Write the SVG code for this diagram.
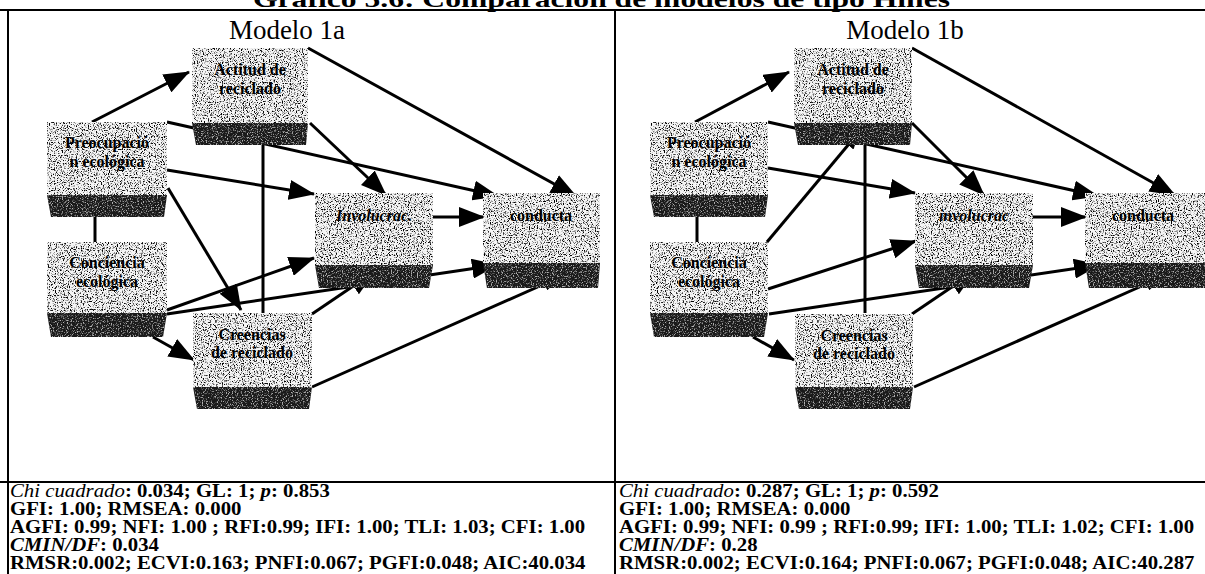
<svg xmlns="http://www.w3.org/2000/svg" width="1205" height="574" viewBox="0 0 1205 574">
  <style>
    .rule{stroke:#000;stroke-width:2;fill:none}
    .edge{stroke:#000;stroke-width:3;fill:none;marker-end:url(#ah)}
    .edge.hid{marker-end:url(#ahs)}
    .face{fill:#f5f5f5;filter:url(#speckLight)}
    .base{fill:#1a1a1a;filter:url(#speckDark)}
    .lbl{font-family:"Liberation Serif","Times New Roman",serif;font-weight:bold;font-size:16px;text-anchor:middle;fill:#000}
    .lbl.it{font-style:italic}
    .head{font-family:"Liberation Serif","Times New Roman",serif;font-size:27px;text-anchor:middle;fill:#000}
    .title{font-family:"Liberation Serif","Times New Roman",serif;font-size:24px;font-weight:bold;fill:#000}
    .stat{font-family:"Liberation Serif","Times New Roman",serif;font-size:18px;font-weight:bold;fill:#000}
    .i{font-style:italic}
    .n{font-weight:normal}
  </style>
  <defs>
    <filter id="speckLight" x="0" y="0" width="1" height="1" color-interpolation-filters="sRGB">
      <feTurbulence type="fractalNoise" baseFrequency="0.85" numOctaves="2" seed="4" result="n"/>
      <feColorMatrix in="n" type="matrix" values="0 0 0 0 0  0 0 0 0 0  0 0 0 0 0  5 0 0 0 -2.55" result="d"/>
      <feComposite in="d" in2="SourceGraphic" operator="in" result="dm"/>
      <feMerge><feMergeNode in="SourceGraphic"/><feMergeNode in="dm"/></feMerge>
    </filter>
    <filter id="speckDark" x="0" y="0" width="1" height="1" color-interpolation-filters="sRGB">
      <feTurbulence type="fractalNoise" baseFrequency="0.8" numOctaves="2" seed="9" result="n"/>
      <feColorMatrix in="n" type="matrix" values="0 0 0 0 0.7  0 0 0 0 0.7  0 0 0 0 0.7  5 0 0 0 -2.6" result="d"/>
      <feComposite in="d" in2="SourceGraphic" operator="in" result="dm"/>
      <feMerge><feMergeNode in="SourceGraphic"/><feMergeNode in="dm"/></feMerge>
    </filter>
    <!-- regular arrowhead -->
    <marker id="ah" markerUnits="userSpaceOnUse" viewBox="0 0 26 20" markerWidth="26" markerHeight="20" refX="25" refY="10" orient="auto">
      <path d="M0,0 L26,10 L0,20 z" fill="#000"/>
    </marker>
    <!-- short arrowhead, used where the tip sits inside a dark base band -->
    <marker id="ahs" markerUnits="userSpaceOnUse" viewBox="0 0 18 14" markerWidth="18" markerHeight="14" refX="17" refY="7" orient="auto">
      <path d="M0,0 L18,7 L0,14 z" fill="#000"/>
    </marker>
  </defs>

  <!-- caption (top clipped by the page edge) -->
  <text class="title" x="253" y="7" textLength="697" lengthAdjust="spacingAndGlyphs">Gráfico 5.6: Comparación de modelos de tipo Hines</text>

  <!-- table rules -->
  <g id="table">
    <line class="rule" x1="0" y1="10" x2="1205" y2="10"/>
    <line class="rule" x1="8" y1="10" x2="8" y2="574"/>
    <line class="rule" x1="615" y1="10" x2="615" y2="574"/>
    <line class="rule" x1="0" y1="482" x2="1205" y2="482"/>
  </g>

  <text class="head" x="287" y="39">Modelo 1a</text>
  <text class="head" x="905" y="39">Modelo 1b</text>

  <!-- ===== Modelo 1a ===== -->
  <g id="m1a">
    <g id="m1a-connectors">
      <path class="edge" d="M92,122 L189,72"/>
      <path class="edge" d="M308,48 L576,196"/>
      <path class="edge" d="M167,122 L498,196"/>
      <path class="edge" d="M310,123 L386,195"/>
      <path class="edge" d="M167,170 L314,194"/>
      <path class="edge" d="M168,188 L241,310"/>
      <path class="edge hid" d="M95,242 L95,197"/>
      <path class="edge hid" d="M263,313 L263,125"/>
      <path class="edge" d="M167,310 L314,258"/>
      <path class="edge" d="M167,314 L497,265"/>
      <path class="edge" d="M433,217 L484,217"/>
      <path class="edge" d="M153,337 L194,360"/>
      <path class="edge" d="M312,314 L374,272"/>
      <path class="edge hid" d="M312,387 L560,277"/>
    </g>
    <g id="m1a-actitud">
      <rect class="face" x="192" y="48" width="116" height="75"/>
      <polygon class="base" points="192,123 308,123 306,145 196,145"/>
      <text class="lbl" x="250" y="75">Actitud de</text>
      <text class="lbl" x="250" y="94">reciclado</text>
    </g>
    <g id="m1a-preocupacion">
      <rect class="face" x="47" y="122" width="120" height="73"/>
      <polygon class="base" points="47,195 167,195 164,217 51,217"/>
      <text class="lbl" x="107" y="148">Preocupació</text>
      <text class="lbl" x="107" y="167">n ecológica</text>
    </g>
    <g id="m1a-conciencia">
      <rect class="face" x="47" y="242" width="120" height="71"/>
      <polygon class="base" points="47,313 167,313 163,337 51,337"/>
      <text class="lbl" x="107" y="268">Conciencia</text>
      <text class="lbl" x="107" y="287">ecológica</text>
    </g>
    <g id="m1a-creencias">
      <rect class="face" x="193" y="313" width="119" height="74"/>
      <polygon class="base" points="193,387 312,387 309,409 197,409"/>
      <text class="lbl" x="252" y="340">Creencias</text>
      <text class="lbl" x="252" y="358">de reciclado</text>
    </g>
    <g id="m1a-involucrac">
      <rect class="face" x="315" y="193" width="118" height="72"/>
      <polygon class="base" points="315,265 433,265 429,288 319,288"/>
      <text class="lbl it" x="374" y="221">Involucrac.</text>
    </g>
    <g id="m1a-conducta">
      <rect class="face" x="483" y="193" width="117" height="70"/>
      <polygon class="base" points="483,263 600,263 598,288 487,288"/>
      <text class="lbl" x="541" y="221">conducta</text>
    </g>
  </g>

  <!-- ===== Modelo 1b ===== -->
  <g id="m1b" transform="translate(602,0)">
    <g id="m1b-connectors">
      <path class="edge" d="M93,122 L187,72"/>
      <path class="edge" d="M310,48 L573,195"/>
      <path class="edge" d="M166,122 L496,196"/>
      <path class="edge" d="M310,123 L382,195"/>
      <path class="edge" d="M166,168 L313,193"/>
      <path class="edge hid" d="M165,242 L257,132"/>
      <path class="edge hid" d="M95,242 L95,197"/>
      <path class="edge hid" d="M263,313 L263,125"/>
      <path class="edge" d="M166,289 L314,241"/>
      <path class="edge" d="M167,314 L497,265"/>
      <path class="edge" d="M431,217 L484,217"/>
      <path class="edge" d="M151,337 L192,360"/>
      <path class="edge" d="M310,314 L372,272"/>
      <path class="edge hid" d="M312,387 L560,277"/>
    </g>
    <g id="m1b-actitud">
      <rect class="face" x="192" y="48" width="118" height="75"/>
      <polygon class="base" points="192,123 310,123 308,145 196,145"/>
      <text class="lbl" x="251" y="75">Actitud de</text>
      <text class="lbl" x="251" y="94">reciclado</text>
    </g>
    <g id="m1b-preocupacion">
      <rect class="face" x="48" y="122" width="118" height="73"/>
      <polygon class="base" points="48,195 166,195 163,217 52,217"/>
      <text class="lbl" x="107" y="148">Preocupació</text>
      <text class="lbl" x="107" y="167">n ecológica</text>
    </g>
    <g id="m1b-conciencia">
      <rect class="face" x="48" y="242" width="118" height="71"/>
      <polygon class="base" points="48,313 166,313 162,337 52,337"/>
      <text class="lbl" x="107" y="268">Conciencia</text>
      <text class="lbl" x="107" y="287">ecológica</text>
    </g>
    <g id="m1b-creencias">
      <rect class="face" x="193" y="314" width="118" height="73"/>
      <polygon class="base" points="193,387 311,387 308,409 197,409"/>
      <text class="lbl" x="252" y="341">Creencias</text>
      <text class="lbl" x="252" y="359">de reciclado</text>
    </g>
    <g id="m1b-involucrac">
      <rect class="face" x="313" y="193" width="118" height="72"/>
      <polygon class="base" points="313,265 431,265 427,288 317,288"/>
      <text class="lbl it" x="372" y="221">involucrac</text>
    </g>
    <g id="m1b-conducta">
      <rect class="face" x="483" y="193" width="120" height="70"/>
      <polygon class="base" points="483,263 603,263 603,288 487,288"/>
      <text class="lbl" x="541" y="221">conducta</text>
    </g>
  </g>

  <!-- fit statistics (glyphs widened to the printed proportions) -->
  <g id="stats-1a" transform="translate(10,0) scale(1.155,1)">
    <text class="stat" x="0" y="497"><tspan class="i n">Chi cuadrado</tspan>: 0.034; GL: 1; <tspan class="i">p</tspan>: 0.853</text>
    <text class="stat" x="0" y="515">GFI: 1.00; RMSEA: 0.000</text>
    <text class="stat" x="0" y="533">AGFI: 0.99; NFI: 1.00 ; RFI:0.99; IFI: 1.00; TLI: 1.03; CFI: 1.00</text>
    <text class="stat" x="0" y="551"><tspan class="i">CMIN/DF</tspan>: 0.034</text>
    <text class="stat" x="0" y="569">RMSR:0.002; ECVI:0.163; PNFI:0.067; PGFI:0.048; AIC:40.034</text>
  </g>
  <g id="stats-1b" transform="translate(619,0) scale(1.155,1)">
    <text class="stat" x="0" y="497"><tspan class="i n">Chi cuadrado</tspan>: 0.287; GL: 1; <tspan class="i">p</tspan>: 0.592</text>
    <text class="stat" x="0" y="515">GFI: 1.00; RMSEA: 0.000</text>
    <text class="stat" x="0" y="533">AGFI: 0.99; NFI: 0.99 ; RFI:0.99; IFI: 1.00; TLI: 1.02; CFI: 1.00</text>
    <text class="stat" x="0" y="551"><tspan class="i">CMIN/DF</tspan>: 0.28</text>
    <text class="stat" x="0" y="569">RMSR:0.002; ECVI:0.164; PNFI:0.067; PGFI:0.048; AIC:40.287</text>
  </g>
</svg>
